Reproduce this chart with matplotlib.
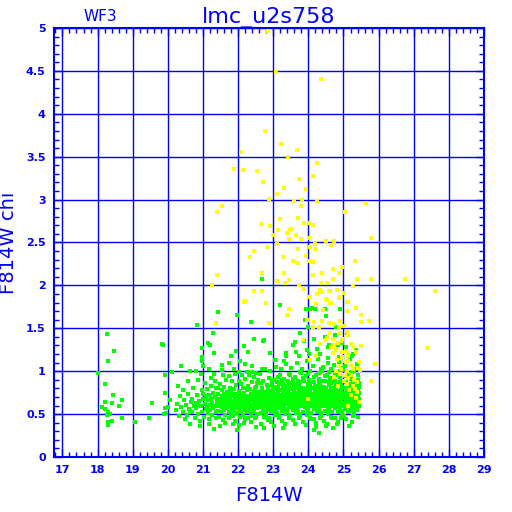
import numpy as np
import matplotlib
matplotlib.use("Agg")
import matplotlib.pyplot as plt
from matplotlib.ticker import MultipleLocator, FuncFormatter

# data (F814W magnitude, F814W chi)
green_sparse = [
    (18.26, 1.43), (18.47, 1.24), (18.30, 1.12), (18.00, 0.98), (18.20, 0.85),
    (18.43, 0.72), (18.20, 0.64), (18.40, 0.63), (18.12, 0.58), (18.22, 0.56),
    (18.30, 0.52), (18.36, 0.50), (18.28, 0.49), (18.69, 0.67), (18.62, 0.59),
    (18.70, 0.46), (18.30, 0.41), (18.42, 0.42), (18.30, 0.37), (19.07, 0.41),
    (19.45, 0.45), (19.55, 0.63), (19.87, 1.31), (19.93, 0.95), (19.93, 0.75),
    (19.93, 0.57), (19.90, 0.50), (19.95, 0.51), (20.00, 0.58), (20.05, 0.67),
    (19.84, 1.32), (21.43, 1.69), (21.96, 1.66), (22.36, 1.57), (20.82, 1.54),
    (21.30, 1.45), (21.15, 1.33), (21.21, 1.30), (20.98, 1.27), (21.31, 1.21),
    (21.93, 1.24), (22.17, 1.29), (22.28, 1.22), (22.45, 1.38), (22.73, 1.36),
    (20.98, 1.17), (20.98, 1.12), (21.01, 1.06), (21.81, 1.18), (22.06, 1.12),
    (21.73, 1.09), (21.55, 1.07), (21.55, 1.01), (20.37, 1.06), (21.16, 1.02),
    (20.63, 1.00), (20.79, 1.00), (20.11, 0.99), (19.93, 0.96), (21.32, 0.97),
    (20.94, 0.97), (21.88, 1.03), (22.04, 0.99), (22.19, 1.08), (22.40, 1.06),
    (22.52, 0.98), (22.69, 1.03), (22.69, 2.07), (23.19, 1.77), (23.89, 1.96),
    (23.93, 1.73), (24.04, 1.72), (24.46, 1.73), (23.77, 1.45), (22.72, 1.35),
    (23.62, 1.34), (22.90, 1.21), (23.35, 1.21), (23.73, 1.18), (24.02, 1.20),
    (24.34, 1.20), (23.20, 1.77), (24.10, 1.74), (23.30, 1.12), (24.20, 1.72),
    (24.50, 1.64), (24.78, 1.52), (25.10, 1.45), (24.95, 1.33), (25.35, 1.25),
    (24.00, 1.52), (23.90, 1.60), (25.25, 1.18), (24.60, 1.30), (24.17, 0.31),
    (23.29, 0.34), (24.69, 0.34), (24.30, 0.28), (24.90, 1.73),
]

green_cluster = [
    (20.22, 0.55), (20.27, 0.62), (20.31, 0.48), (20.35, 0.71), (20.38, 0.58),
    (20.42, 0.52), (20.45, 0.66), (20.48, 0.44), (20.30, 0.83), (20.44, 0.78),
    (20.52, 0.61), (20.55, 0.49), (20.58, 0.73), (20.60, 0.56), (20.63, 0.38),
    (20.66, 0.64), (20.69, 0.52), (20.72, 0.80), (20.74, 0.59), (20.77, 0.46),
    (20.57, 0.88), (20.68, 0.68), (20.79, 0.63), (20.62, 0.54),
    (20.81, 0.57), (20.84, 0.72), (20.86, 0.50), (20.89, 0.65), (20.91, 0.42),
    (20.94, 0.60), (20.96, 0.78), (20.98, 0.53), (21.01, 0.68), (21.03, 0.47),
    (21.05, 0.62), (21.07, 0.86), (21.09, 0.56), (20.87, 0.90), (21.00, 0.74),
    (20.93, 0.36), (21.08, 0.71), (20.83, 0.61),
    (21.11, 0.58), (21.12, 0.79), (21.14, 0.51), (21.15, 0.66), (21.17, 0.44),
    (21.18, 0.72), (21.20, 0.61), (21.21, 0.55), (21.23, 0.83), (21.24, 0.68),
    (21.26, 0.49), (21.27, 0.63), (21.29, 0.75), (21.30, 0.57), (21.31, 0.33),
    (21.33, 0.70), (21.34, 0.60), (21.36, 0.52), (21.37, 0.81), (21.39, 0.65),
    (21.22, 0.92), (21.35, 0.88), (21.16, 0.39), (21.28, 0.58), (21.38, 0.46),
    (21.41, 0.62), (21.42, 0.74), (21.43, 0.54), (21.45, 0.68), (21.46, 0.47),
    (21.47, 0.59), (21.49, 0.85), (21.50, 0.64), (21.51, 0.52), (21.53, 0.71),
    (21.54, 0.58), (21.55, 0.78), (21.57, 0.43), (21.58, 0.66), (21.59, 0.55),
    (21.61, 0.73), (21.62, 0.61), (21.63, 0.49), (21.65, 0.69), (21.66, 0.90),
    (21.67, 0.57), (21.69, 0.64), (21.48, 0.36), (21.56, 0.95), (21.60, 0.82),
    (21.44, 0.80), (21.52, 0.60), (21.64, 0.40), (21.68, 0.76), (21.58, 0.62),
    (21.71, 0.60), (21.72, 0.72), (21.73, 0.53), (21.74, 0.66), (21.75, 0.45),
    (21.76, 0.81), (21.77, 0.58), (21.78, 0.69), (21.79, 0.50), (21.80, 0.63),
    (21.81, 0.76), (21.82, 0.56), (21.83, 0.88), (21.84, 0.65), (21.85, 0.48),
    (21.86, 0.71), (21.87, 0.60), (21.88, 0.54), (21.89, 0.79), (21.90, 0.67),
    (21.91, 0.42), (21.92, 0.62), (21.93, 0.74), (21.94, 0.57), (21.95, 0.84),
    (21.96, 0.64), (21.97, 0.51), (21.98, 0.70), (21.99, 0.59), (21.73, 0.94),
    (21.86, 0.38), (21.92, 0.97), (21.78, 0.62), (21.96, 0.31), (21.84, 0.73),
    (22.01, 0.63), (22.02, 0.55), (22.03, 0.77), (22.04, 0.68), (22.05, 0.47),
    (22.06, 0.60), (22.07, 0.85), (22.08, 0.66), (22.09, 0.52), (22.10, 0.72),
    (22.11, 0.58), (22.12, 0.64), (22.13, 0.80), (22.14, 0.49), (22.15, 0.69),
    (22.16, 0.61), (22.17, 0.75), (22.18, 0.55), (22.19, 0.91), (22.20, 0.65),
    (22.21, 0.44), (22.22, 0.70), (22.23, 0.59), (22.24, 0.78), (22.25, 0.53),
    (22.26, 0.67), (22.27, 0.62), (22.28, 0.83), (22.29, 0.57), (22.03, 0.37),
    (22.11, 0.96), (22.17, 0.40), (22.24, 0.99), (22.06, 0.73), (22.14, 0.62),
    (22.22, 0.57), (22.28, 0.71), (22.02, 0.89), (22.19, 0.68), (22.27, 0.46),
    (22.31, 0.64), (22.32, 0.71), (22.33, 0.56), (22.34, 0.79), (22.35, 0.61),
    (22.36, 0.48), (22.37, 0.68), (22.38, 0.74), (22.39, 0.58), (22.40, 0.87),
    (22.41, 0.66), (22.42, 0.52), (22.43, 0.70), (22.44, 0.62), (22.45, 0.77),
    (22.46, 0.55), (22.47, 0.65), (22.48, 0.45), (22.49, 0.73), (22.50, 0.60),
    (22.51, 0.82), (22.52, 0.67), (22.53, 0.57), (22.54, 0.71), (22.55, 0.50),
    (22.56, 0.63), (22.57, 0.90), (22.58, 0.69), (22.59, 0.59), (22.32, 0.95),
    (22.38, 0.41), (22.44, 0.93), (22.50, 0.35), (22.56, 0.76), (22.35, 0.66),
    (22.41, 0.58), (22.47, 0.80), (22.53, 0.64), (22.59, 0.72), (22.34, 0.53),
    (22.46, 0.69), (22.52, 0.47), (22.58, 0.61), (22.40, 0.99), (22.55, 0.86),
    (22.61, 0.66), (22.62, 0.58), (22.63, 0.74), (22.64, 0.69), (22.65, 0.51),
    (22.66, 0.63), (22.67, 0.81), (22.68, 0.60), (22.69, 0.72), (22.70, 0.55),
    (22.71, 0.67), (22.72, 0.88), (22.73, 0.62), (22.74, 0.47), (22.75, 0.70),
    (22.76, 0.59), (22.77, 0.76), (22.78, 0.64), (22.79, 0.53), (22.80, 0.68),
    (22.81, 0.84), (22.82, 0.61), (22.83, 0.72), (22.84, 0.57), (22.85, 0.66),
    (22.86, 0.43), (22.87, 0.75), (22.88, 0.63), (22.89, 0.92), (22.62, 0.97),
    (22.65, 0.39), (22.68, 0.78), (22.71, 0.56), (22.74, 0.65), (22.77, 1.02),
    (22.80, 0.49), (22.83, 0.60), (22.86, 0.82), (22.89, 0.69), (22.64, 0.60),
    (22.70, 0.73), (22.76, 0.52), (22.82, 0.67), (22.88, 0.55), (22.66, 0.86),
    (22.72, 0.64), (22.78, 0.71), (22.84, 0.79), (22.73, 0.34), (22.87, 0.46),
    (22.91, 0.68), (22.92, 0.60), (22.93, 0.77), (22.94, 0.71), (22.95, 0.53),
    (22.96, 0.65), (22.97, 0.84), (22.98, 0.62), (22.99, 0.74), (23.00, 0.57),
    (23.01, 0.69), (23.02, 0.90), (23.03, 0.64), (23.04, 0.49), (23.05, 0.72),
    (23.06, 0.61), (23.07, 0.79), (23.08, 0.66), (23.09, 0.55), (23.10, 0.70),
    (23.11, 0.87), (23.12, 0.63), (23.13, 0.75), (23.14, 0.58), (23.15, 0.68),
    (23.16, 0.45), (23.17, 0.78), (23.18, 0.65), (23.19, 0.95), (22.92, 1.00),
    (22.95, 0.41), (22.98, 0.80), (23.01, 0.59), (23.04, 0.67), (23.07, 1.05),
    (23.10, 0.51), (23.13, 0.62), (23.16, 0.85), (23.19, 0.71), (22.94, 0.62),
    (23.00, 0.76), (23.06, 0.54), (23.12, 0.69), (23.18, 0.57), (22.96, 0.89),
    (23.02, 0.66), (23.08, 0.73), (23.14, 0.81), (23.03, 0.36), (23.17, 0.48),
    (23.05, 1.13), (23.15, 0.93), (22.99, 0.70), (23.11, 0.64), (23.09, 0.82),
    (23.21, 0.69), (23.22, 0.61), (23.23, 0.78), (23.24, 0.72), (23.25, 0.54),
    (23.26, 0.66), (23.27, 0.85), (23.28, 0.63), (23.29, 0.75), (23.30, 0.58),
    (23.31, 0.70), (23.32, 0.91), (23.33, 0.65), (23.34, 0.50), (23.35, 0.73),
    (23.36, 0.62), (23.37, 0.80), (23.38, 0.67), (23.39, 0.56), (23.40, 0.71),
    (23.41, 0.88), (23.42, 0.64), (23.43, 0.76), (23.44, 0.59), (23.45, 0.69),
    (23.46, 0.46), (23.47, 0.79), (23.48, 0.66), (23.49, 0.96), (23.22, 1.02),
    (23.25, 0.42), (23.28, 0.81), (23.31, 0.60), (23.34, 0.68), (23.37, 1.08),
    (23.40, 0.52), (23.43, 0.63), (23.46, 0.86), (23.49, 0.72), (23.24, 0.63),
    (23.30, 0.77), (23.36, 0.55), (23.42, 0.70), (23.48, 0.58), (23.26, 0.90),
    (23.32, 0.67), (23.38, 0.74), (23.44, 0.82), (23.33, 0.38), (23.47, 0.49),
    (23.35, 1.18), (23.45, 0.97), (23.29, 0.71), (23.41, 0.65), (23.39, 0.83),
    (23.51, 0.70), (23.52, 0.62), (23.53, 0.79), (23.54, 0.73), (23.55, 0.55),
    (23.56, 0.67), (23.57, 0.86), (23.58, 0.64), (23.59, 0.76), (23.60, 0.59),
    (23.61, 0.71), (23.62, 0.93), (23.63, 0.66), (23.64, 0.51), (23.65, 0.74),
    (23.66, 0.63), (23.67, 0.81), (23.68, 0.68), (23.69, 0.57), (23.70, 0.72),
    (23.71, 0.89), (23.72, 0.65), (23.73, 0.77), (23.74, 0.60), (23.75, 0.70),
    (23.76, 0.47), (23.77, 0.80), (23.78, 0.67), (23.79, 0.98), (23.52, 1.04),
    (23.55, 0.43), (23.58, 0.82), (23.61, 0.61), (23.64, 0.69), (23.67, 1.10),
    (23.70, 0.53), (23.73, 0.64), (23.76, 0.87), (23.79, 0.73), (23.54, 0.64),
    (23.60, 0.78), (23.66, 0.56), (23.72, 0.71), (23.78, 0.59), (23.56, 0.91),
    (23.62, 0.68), (23.68, 0.75), (23.74, 0.83), (23.63, 0.39), (23.77, 0.50),
    (23.65, 1.22), (23.75, 0.99), (23.59, 0.72), (23.71, 0.66), (23.69, 0.84),
    (23.57, 1.30), (23.74, 0.45),
    (23.81, 0.68), (23.82, 0.75), (23.83, 0.60), (23.84, 0.81), (23.85, 0.66),
    (23.86, 0.53), (23.87, 0.72), (23.88, 0.88), (23.89, 0.63), (23.90, 0.77),
    (23.91, 0.58), (23.92, 0.70), (23.93, 0.94), (23.94, 0.65), (23.95, 0.49),
    (23.96, 0.74), (23.97, 0.61), (23.98, 0.83), (23.99, 0.69), (24.00, 0.56),
    (24.01, 0.73), (24.02, 0.90), (24.03, 0.64), (24.04, 0.78), (24.05, 0.59),
    (24.06, 0.71), (24.07, 0.44), (24.08, 0.80), (24.09, 0.67), (23.82, 1.03),
    (23.85, 0.41), (23.88, 0.79), (23.91, 0.62), (23.94, 0.70), (23.97, 1.12),
    (24.00, 0.52), (24.03, 0.66), (24.06, 0.86), (24.09, 0.74), (23.84, 0.62),
    (23.90, 0.79), (23.96, 0.57), (24.02, 0.72), (24.08, 0.60), (23.86, 0.92),
    (23.92, 0.68), (23.98, 0.76), (24.04, 0.84), (23.93, 0.37), (24.07, 0.51),
    (23.95, 1.25), (24.05, 1.00), (23.89, 0.73), (24.01, 0.65), (23.99, 0.85),
    (23.87, 1.35), (24.04, 0.46), (24.10, 0.69), (23.83, 0.71), (24.00, 0.97),
    (24.11, 0.71), (24.12, 0.63), (24.13, 0.80), (24.14, 0.74), (24.15, 0.56),
    (24.16, 0.68), (24.17, 0.87), (24.18, 0.65), (24.19, 0.77), (24.20, 0.60),
    (24.21, 0.72), (24.22, 0.95), (24.23, 0.67), (24.24, 0.52), (24.25, 0.75),
    (24.26, 0.64), (24.27, 0.82), (24.28, 0.69), (24.29, 0.58), (24.30, 0.73),
    (24.31, 0.91), (24.32, 0.66), (24.33, 0.78), (24.34, 0.61), (24.35, 0.71),
    (24.36, 0.48), (24.37, 0.81), (24.38, 0.68), (24.39, 1.00), (24.12, 1.06),
    (24.15, 0.44), (24.18, 0.83), (24.21, 0.62), (24.24, 0.70), (24.27, 1.14),
    (24.30, 0.54), (24.33, 0.65), (24.36, 0.88), (24.39, 0.74), (24.14, 0.65),
    (24.20, 0.79), (24.26, 0.57), (24.32, 0.72), (24.38, 0.60), (24.16, 0.93),
    (24.22, 0.69), (24.28, 0.76), (24.34, 0.85), (24.23, 0.40), (24.37, 0.51),
    (24.25, 1.26), (24.35, 1.02), (24.19, 0.73), (24.31, 0.67), (24.29, 0.86),
    (24.17, 1.38), (24.34, 0.45), (24.40, 0.70), (24.13, 0.70), (24.30, 0.98),
    (24.21, 0.35),
    (24.41, 0.69), (24.42, 0.76), (24.43, 0.61), (24.44, 0.82), (24.45, 0.67),
    (24.46, 0.54), (24.47, 0.73), (24.48, 0.89), (24.49, 0.64), (24.50, 0.78),
    (24.51, 0.59), (24.52, 0.71), (24.53, 0.96), (24.54, 0.66), (24.55, 0.50),
    (24.56, 0.75), (24.57, 0.62), (24.58, 0.84), (24.59, 0.70), (24.60, 0.57),
    (24.61, 0.74), (24.62, 0.92), (24.63, 0.65), (24.64, 0.79), (24.65, 0.60),
    (24.66, 0.72), (24.67, 0.45), (24.68, 0.81), (24.69, 0.68), (24.42, 1.05),
    (24.45, 0.42), (24.48, 0.80), (24.51, 0.63), (24.54, 0.71), (24.57, 1.15),
    (24.60, 0.53), (24.63, 0.67), (24.66, 0.87), (24.69, 0.75), (24.44, 0.63),
    (24.50, 0.80), (24.56, 0.58), (24.62, 0.73), (24.68, 0.61), (24.46, 0.94),
    (24.52, 0.69), (24.58, 0.77), (24.64, 0.86), (24.53, 0.38), (24.67, 0.52),
    (24.55, 1.28), (24.65, 1.03), (24.49, 0.74), (24.61, 0.66), (24.59, 0.87),
    (24.47, 1.40), (24.64, 0.47), (24.70, 0.70), (24.43, 0.72), (24.60, 0.99),
    (24.51, 0.36), (24.56, 1.09),
    (24.71, 0.72), (24.72, 0.64), (24.73, 0.81), (24.74, 0.75), (24.75, 0.57),
    (24.76, 0.69), (24.77, 0.88), (24.78, 0.66), (24.79, 0.78), (24.80, 0.61),
    (24.81, 0.73), (24.82, 0.97), (24.83, 0.68), (24.84, 0.53), (24.85, 0.76),
    (24.86, 0.65), (24.87, 0.83), (24.88, 0.70), (24.89, 0.59), (24.90, 0.74),
    (24.91, 0.93), (24.92, 0.67), (24.93, 0.79), (24.94, 0.62), (24.95, 0.72),
    (24.96, 0.49), (24.97, 0.82), (24.98, 0.69), (24.99, 1.01), (24.72, 1.07),
    (24.75, 0.45), (24.78, 0.84), (24.81, 0.63), (24.84, 0.71), (24.87, 1.16),
    (24.90, 0.55), (24.93, 0.66), (24.96, 0.89), (24.99, 0.75), (24.74, 0.66),
    (24.80, 0.80), (24.86, 0.58), (24.92, 0.73), (24.98, 0.61), (24.76, 0.95),
    (24.82, 0.70), (24.88, 0.77), (24.94, 0.86), (24.83, 0.41), (24.97, 0.52),
    (24.85, 1.30), (24.95, 1.04), (24.79, 0.74), (24.91, 0.68), (24.89, 0.87),
    (24.77, 1.42), (24.94, 0.46), (25.00, 0.71), (24.73, 0.71), (24.90, 1.00),
    (24.81, 0.38), (24.86, 1.11), (24.96, 0.60),
    (25.01, 0.70), (25.02, 0.63), (25.03, 0.80), (25.04, 0.74), (25.05, 0.56),
    (25.06, 0.68), (25.07, 0.87), (25.08, 0.65), (25.09, 0.77), (25.10, 0.60),
    (25.11, 0.72), (25.12, 0.96), (25.13, 0.67), (25.14, 0.52), (25.15, 0.75),
    (25.16, 0.64), (25.17, 0.82), (25.18, 0.69), (25.19, 0.58), (25.20, 0.73),
    (25.21, 0.91), (25.22, 0.66), (25.23, 0.78), (25.24, 0.61), (25.25, 0.71),
    (25.26, 0.48), (25.27, 0.81), (25.28, 0.68), (25.29, 1.00), (25.30, 0.70),
    (25.31, 0.62), (25.32, 0.77), (25.33, 0.84), (25.34, 0.59), (25.35, 0.73),
    (25.36, 0.66), (25.37, 0.90), (25.38, 0.55), (25.39, 0.69), (25.40, 0.79),
    (25.41, 0.64), (25.42, 0.72), (25.43, 0.86), (25.44, 0.60), (25.45, 0.75),
    (25.03, 1.06), (25.06, 0.44), (25.09, 0.83), (25.12, 0.62), (25.15, 0.70),
    (25.18, 1.14), (25.21, 0.54), (25.24, 0.65), (25.27, 0.88), (25.30, 0.74),
    (25.33, 0.65), (25.36, 0.80), (25.39, 0.57), (25.42, 0.95), (25.45, 0.68),
    (25.05, 0.94), (25.10, 0.69), (25.15, 0.77), (25.20, 0.85), (25.25, 0.41),
    (25.30, 0.51), (25.35, 1.02), (25.40, 0.47), (25.44, 0.82), (25.08, 1.28),
    (25.13, 0.73), (25.23, 0.99), (25.28, 0.58), (25.33, 0.71), (25.38, 1.08),
    (25.43, 0.63), (25.02, 0.48), (25.17, 0.36), (25.41, 0.90), (25.26, 1.20),
    (25.36, 0.56), (25.11, 0.83),
]

yellow_pts = [
    (22.85, 4.96), (23.07, 4.49), (24.36, 4.40), (22.78, 3.80), (23.22, 3.65),
    (23.67, 3.58), (22.08, 3.56), (23.42, 3.50), (24.24, 3.43), (21.88, 3.36),
    (22.14, 3.35), (22.53, 3.33), (24.12, 3.27), (23.73, 3.24), (22.70, 3.21),
    (23.30, 3.14), (23.94, 3.12), (23.11, 3.07), (22.88, 3.01), (23.58, 2.98),
    (23.83, 3.00), (24.25, 2.98), (25.64, 2.96), (21.53, 2.92), (21.41, 2.85),
    (23.79, 2.92), (25.03, 2.86), (23.18, 2.77), (23.70, 2.78), (22.65, 2.72),
    (23.89, 2.73), (24.01, 2.73), (24.13, 2.70), (22.91, 2.69), (23.54, 2.66),
    (23.14, 2.64), (23.49, 2.64), (23.38, 2.61), (23.00, 2.59), (23.66, 2.59),
    (23.79, 2.54), (23.45, 2.54), (24.02, 2.55), (24.49, 2.52), (24.74, 2.52),
    (25.79, 2.55), (23.11, 2.48), (24.19, 2.48), (24.19, 2.42), (24.65, 2.47),
    (22.83, 2.45), (23.70, 2.43), (24.06, 2.45), (22.46, 2.40), (22.34, 2.33),
    (23.27, 2.33), (23.94, 2.34), (23.56, 2.29), (23.70, 2.26), (24.02, 2.29),
    (24.13, 2.27), (25.33, 2.28), (24.97, 2.22), (24.70, 2.19), (22.68, 2.15),
    (23.32, 2.14), (24.40, 2.15), (24.86, 2.14), (24.12, 2.12), (21.39, 2.12),
    (24.70, 2.07), (25.39, 2.07), (25.79, 2.07), (26.74, 2.07), (23.11, 2.05),
    (23.33, 2.03), (23.45, 2.06), (23.73, 2.01), (24.36, 2.03), (24.53, 2.03),
    (21.26, 2.00), (25.28, 1.99), (22.46, 1.94), (22.69, 1.94), (23.89, 1.96),
    (24.34, 1.95), (24.60, 1.94), (24.81, 1.95), (24.25, 1.90), (24.02, 1.86),
    (22.19, 1.82), (22.80, 1.80), (24.51, 1.84), (24.88, 1.85), (25.10, 1.81),
    (24.63, 1.79), (27.60, 1.93), (27.39, 1.27), (25.89, 1.08), (25.79, 0.89),
    (22.18, 1.81), (21.38, 1.56), (22.45, 1.94), (22.68, 1.93),
    (24.04, 1.86), (24.25, 1.90), (24.36, 1.92), (24.63, 1.93), (24.88, 1.86),
    (25.01, 1.91), (24.23, 1.78), (24.53, 1.83), (24.65, 1.79), (25.12, 1.81),
    (25.35, 1.74), (25.49, 1.66), (25.73, 1.59), (25.50, 1.57), (24.42, 1.71),
    (25.09, 1.70), (23.39, 1.66), (23.45, 1.72), (23.96, 1.60), (24.17, 1.57),
    (24.38, 1.59), (24.59, 1.56), (24.74, 1.55), (24.90, 1.59), (24.30, 1.51),
    (24.88, 1.51), (25.01, 1.53), (24.63, 1.45), (24.91, 1.45), (25.12, 1.42),
    (25.09, 1.47), (24.97, 1.38), (24.53, 1.39), (24.71, 1.37), (24.84, 1.33),
    (24.93, 1.35), (24.65, 1.28), (24.74, 1.31), (24.80, 1.25), (25.20, 1.32),
    (25.28, 1.28), (24.50, 1.36), (24.32, 1.32), (23.85, 1.36), (25.07, 1.24),
    (25.14, 1.21), (24.95, 1.22), (24.69, 1.21), (25.49, 1.29), (25.37, 1.22),
    (24.97, 1.17), (25.03, 1.12), (25.12, 1.18), (24.23, 1.18), (24.82, 1.13),
    (25.14, 1.12), (25.20, 1.07), (25.45, 1.11), (24.88, 1.06), (24.93, 1.03),
    (25.09, 1.00), (25.26, 1.03), (25.41, 1.04), (25.47, 1.01), (24.78, 1.00),
    (24.90, 0.97), (25.05, 0.95), (25.12, 0.92), (25.22, 0.95), (25.31, 0.90),
    (25.01, 0.89), (25.11, 0.85), (25.39, 0.87), (25.26, 0.83), (25.33, 0.79),
    (25.39, 0.76), (25.16, 0.78), (24.06, 1.13), (24.74, 0.93), (24.84, 0.83),
    (25.45, 0.64), (25.12, 0.59), (24.13, 1.51), (25.35, 0.69), (25.20, 0.72),
    (23.98, 0.68), (22.80, 1.80), (22.88, 1.56),
]

green_mag = [p[0] for p in green_sparse + green_cluster]
green_chi = [p[1] for p in green_sparse + green_cluster]
yellow_mag = [p[0] for p in yellow_pts]
yellow_chi = [p[1] for p in yellow_pts]

blue = "#0000ff"

fig = plt.figure(figsize=(5.12, 5.12), dpi=100)
ax = fig.add_axes([54 / 512, 1 - 457 / 512, 430 / 512, 429 / 512])

ax.scatter(green_mag, green_chi, s=5, marker="s", color="#00ff00", linewidths=0, zorder=3)
ax.scatter(yellow_mag, yellow_chi, s=5, marker="s", color="#ffff00", linewidths=0, zorder=4)

ax.set_xlim(16.76, 29)
ax.set_ylim(0, 5)

ax.xaxis.set_major_locator(MultipleLocator(1))
ax.xaxis.set_minor_locator(MultipleLocator(0.2))
ax.yaxis.set_major_locator(MultipleLocator(0.5))
ax.yaxis.set_minor_locator(MultipleLocator(0.1))
ax.yaxis.set_major_formatter(FuncFormatter(lambda v, p: "%g" % v))

ax.grid(True, which="major", color=blue, linewidth=1.0, zorder=1)
ax.set_axisbelow(True)
ax.tick_params(which="both", direction="in", top=True, right=True, colors=blue,
               labelsize=8)
ax.tick_params(which="major", length=6, width=1.0, pad=6)
ax.tick_params(which="minor", length=3.5, width=1.0)
for lab in ax.get_xticklabels() + ax.get_yticklabels():
    lab.set_fontweight("bold")
for sp in ax.spines.values():
    sp.set_color(blue)
    sp.set_linewidth(1.5)

ax.set_xlabel("F814W", color=blue, fontsize=14, labelpad=8)
ax.set_ylabel("F814W chi", color=blue, fontsize=14)
ax.yaxis.set_label_coords(-0.084, 0.5)
ax.set_title("lmc_u2s758", color=blue, fontsize=16, pad=3)
ax.text(0.107, 1.01, "WF3", transform=ax.transAxes, color=blue, fontsize=11,
        ha="center", va="bottom")

fig.savefig("out.png", dpi=100)
